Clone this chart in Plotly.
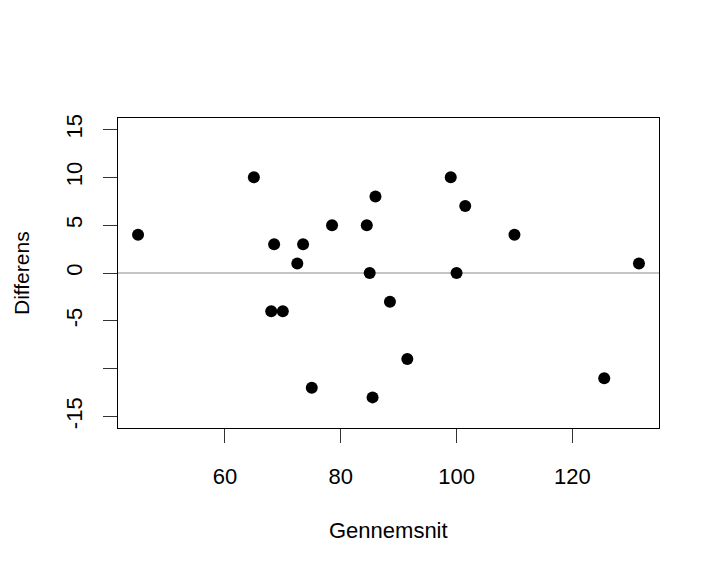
import plotly.graph_objects as go

# Data
gennemsnit = [45, 65, 68.5, 68, 70, 72.5, 73.5, 75, 78.5, 84.5, 85, 85.5, 86, 88.5,
              91.5, 99, 100, 101.5, 110, 125.5, 131.5]
differens = [4, 10, 3, -4, -4, 1, 3, -12, 5, 5, 0, -13, 8, -3,
             -9, 10, 0, 7, 4, -11, 1]

x_ticks = [60, 80, 100, 120]
y_ticks = [-15, -10, -5, 0, 5, 10, 15]
y_ticktext = ["-15", "", "-5", "0", "5", "10", "15"]
ylim = [-15, 15]
hline_y = 0

# R-style 4% range extension
xmin, xmax = min(gennemsnit), max(gennemsnit)
dx = (xmax - xmin) * 0.04
dy = (ylim[1] - ylim[0]) * 0.04
xrange = [xmin - dx, xmax + dx]
yrange = [ylim[0] - dy, ylim[1] + dy]

FONT = "Liberation Sans, Arial, Helvetica, sans-serif"

fig = go.Figure()
fig.add_trace(go.Scatter(
    x=gennemsnit, y=differens, mode="markers",
    marker=dict(color="black", size=12, line=dict(width=0)),
    showlegend=False, hoverinfo="x+y",
))

fig.add_shape(type="line", xref="paper", x0=0, x1=1, yref="y", y0=hline_y, y1=hline_y,
              line=dict(color="#b0b0b0", width=1.5), layer="below")

fig.update_layout(
    width=712, height=568,
    margin=dict(l=110, r=61, t=110, b=148, pad=0),
    plot_bgcolor="white", paper_bgcolor="white",
    font=dict(family=FONT, size=22, color="black"),
    xaxis=dict(
        range=xrange, tickvals=x_ticks, ticks="outside", ticklen=14, tickwidth=1.3,
        tickcolor="#333", showline=True, linecolor="black", linewidth=1.3, mirror=True,
        showgrid=False, zeroline=False, ticklabelstandoff=14,
        tickfont=dict(family=FONT, size=22, color="black"),
    ),
    yaxis=dict(
        range=yrange, tickvals=y_ticks, ticktext=y_ticktext, ticks="outside", ticklen=14,
        tickwidth=1.3, tickcolor="#333", showline=True, linecolor="black", linewidth=1.3,
        mirror=True, showgrid=False, zeroline=False, tickangle=-90, ticklabelstandoff=12,
        tickfont=dict(family=FONT, size=22, color="black"),
    ),
    annotations=[
        dict(text="Gennemsnit", xref="paper", yref="paper", x=0.5, y=0, yshift=-102,
             xanchor="center", yanchor="middle", showarrow=False,
             font=dict(family=FONT, size=22, color="black")),
        dict(text="Differens", xref="paper", yref="paper", x=0, y=0.5, xshift=-97,
             xanchor="center", yanchor="middle", textangle=-90, showarrow=False,
             font=dict(family=FONT, size=21, color="black")),
    ],
)

fig.write_html("out.html")
